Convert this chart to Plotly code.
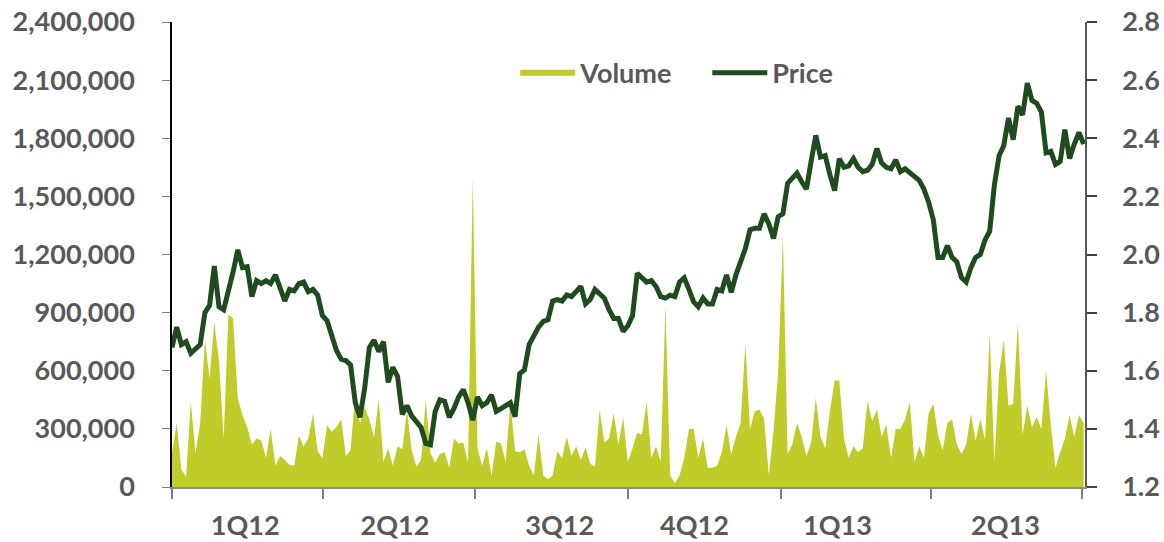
import pandas as pd
import plotly.graph_objects as go

# ---------------- data ----------------
quarter_labels = ["1Q12", "2Q12", "3Q12", "4Q12", "1Q13", "2Q13"]
label_dates = ["2012-02-14", "2012-05-14", "2012-08-21", "2012-11-10", "2013-02-04", "2013-05-16"]
quarter_bounds = ["2012-01-01", "2012-04-01", "2012-07-01", "2012-10-01",
                  "2013-01-01", "2013-04-01", "2013-07-01"]

price = [
    1.68, 1.75, 1.69, 1.70, 1.66, 1.675, 1.69, 1.80, 1.825, 1.96,
    1.82, 1.81, 1.87, 1.94, 2.016, 1.955, 1.958, 1.855, 1.91, 1.90,
    1.91, 1.90, 1.93, 1.878, 1.84, 1.88, 1.875, 1.90, 1.905, 1.872,
    1.88, 1.86, 1.79, 1.772, 1.717, 1.67, 1.64, 1.635, 1.62, 1.49,
    1.44, 1.54, 1.68, 1.705, 1.666, 1.70, 1.56, 1.612, 1.58, 1.45,
    1.48, 1.445, 1.425, 1.405, 1.35, 1.345, 1.46, 1.50, 1.495, 1.44,
    1.47, 1.51, 1.535, 1.49, 1.43, 1.51, 1.48, 1.49, 1.517, 1.46,
    1.47, 1.48, 1.49, 1.442, 1.59, 1.603, 1.69, 1.72, 1.75, 1.77,
    1.775, 1.84, 1.845, 1.84, 1.861, 1.855, 1.875, 1.89, 1.83, 1.845,
    1.88, 1.865, 1.85, 1.81, 1.78, 1.78, 1.735, 1.755, 1.79, 1.935,
    1.92, 1.905, 1.91, 1.89, 1.855, 1.85, 1.86, 1.855, 1.905, 1.92,
    1.88, 1.837, 1.82, 1.85, 1.83, 1.83, 1.88, 1.875, 1.93, 1.87,
    1.93, 1.98, 2.02, 2.085, 2.09, 2.09, 2.14, 2.105, 2.055, 2.13,
    2.14, 2.245, 2.265, 2.28, 2.25, 2.225, 2.32, 2.41, 2.335, 2.34,
    2.275, 2.22, 2.33, 2.30, 2.305, 2.33, 2.30, 2.285, 2.29, 2.31,
    2.365, 2.315, 2.30, 2.295, 2.325, 2.285, 2.295, 2.28, 2.27, 2.255,
    2.225, 2.18, 2.12, 1.99, 1.99, 2.03, 1.99, 1.975, 1.92, 1.905,
    1.955, 1.99, 2.0, 2.05, 2.08, 2.24, 2.34, 2.375, 2.47, 2.395,
    2.51, 2.48, 2.59, 2.53, 2.52, 2.49, 2.35, 2.355, 2.31, 2.32,
    2.43, 2.33, 2.38, 2.42, 2.38,
]

volume = [
    175000, 330000, 90000, 53000, 440000, 175000, 330000, 760000, 560000, 850000,
    650000, 250000, 890000, 870000, 460000, 370000, 310000, 220000, 250000, 240000,
    150000, 300000, 110000, 160000, 140000, 115000, 110000, 265000, 210000, 250000,
    380000, 185000, 150000, 320000, 285000, 310000, 350000, 160000, 190000, 480000,
    330000, 410000, 350000, 255000, 450000, 130000, 200000, 110000, 210000, 195000,
    395000, 190000, 105000, 140000, 450000, 175000, 125000, 170000, 180000, 100000,
    250000, 225000, 230000, 125000, 1600000, 200000, 110000, 200000, 60000, 235000,
    225000, 130000, 440000, 185000, 180000, 195000, 110000, 61000, 270000, 60000,
    40000, 60000, 185000, 150000, 260000, 160000, 210000, 140000, 205000, 120000,
    105000, 400000, 230000, 250000, 380000, 220000, 360000, 130000, 200000, 280000,
    270000, 440000, 150000, 210000, 130000, 940000, 60000, 20000, 60000, 150000,
    300000, 300000, 150000, 250000, 100000, 100000, 110000, 180000, 320000, 170000,
    260000, 330000, 740000, 300000, 390000, 400000, 350000, 60000, 290000, 600000,
    1300000, 170000, 220000, 330000, 260000, 160000, 230000, 460000, 260000, 200000,
    390000, 550000, 550000, 250000, 150000, 210000, 180000, 200000, 445000, 340000,
    400000, 260000, 320000, 150000, 300000, 300000, 350000, 440000, 130000, 210000,
    150000, 380000, 430000, 270000, 190000, 330000, 350000, 220000, 170000, 220000,
    380000, 240000, 350000, 243000, 790000, 130000, 590000, 760000, 420000, 430000,
    850000, 270000, 420000, 310000, 360000, 300000, 600000, 320000, 100000, 180000,
    250000, 370000, 260000, 370000, 330000,
]

dates = pd.date_range("2012-01-01", "2013-07-02", periods=len(price))

# ---------------- styles ----------------
VOL_COLOR = "#C0CC2A"
PRICE_COLOR = "#1F4B1F"
TEXT_COLOR = "#595959"
FONT = dict(family="Lato, 'Open Sans', sans-serif", size=27, color=TEXT_COLOR, weight="bold")

fig = go.Figure()
fig.add_trace(go.Scatter(
    x=dates, y=volume, name="Volume", mode="none",
    fill="tozeroy", fillcolor=VOL_COLOR, yaxis="y",
))
fig.add_trace(go.Scatter(
    x=dates, y=price, name="Price", mode="lines",
    line=dict(color=PRICE_COLOR, width=5), yaxis="y2",
))

fig.update_layout(
    width=1164, height=542,
    margin=dict(l=172, r=79, t=22, b=55, autoexpand=False),
    paper_bgcolor="white", plot_bgcolor="white",
    font=FONT,
    showlegend=True,
    legend=dict(
        orientation="h", x=0.376, y=0.89, xanchor="left", yanchor="middle",
        font=FONT, bgcolor="rgba(0,0,0,0)", itemwidth=55,
        entrywidth=122, entrywidthmode="pixels",
    ),
    xaxis=dict(
        type="date", automargin=False,
        range=["2012-01-01", "2013-07-02 19:00"],
        tickmode="array", tickvals=label_dates, ticktext=quarter_labels,
        ticks="outside", ticklen=14, tickcolor="rgba(0,0,0,0)",
        showgrid=False, zeroline=False,
        showline=True, linecolor="#8C8C8C", linewidth=1.5,
        minor=dict(tickmode="array", tickvals=quarter_bounds, ticks="outside",
                   ticklen=10, tickwidth=1.5, tickcolor="#7F7F7F", showgrid=False),
        tickfont=FONT,
    ),
    yaxis=dict(
        automargin=False,
        range=[0, 2400000], tickmode="linear", tick0=0, dtick=300000,
        tickformat=",d", ticks="outside", ticklen=8, tickcolor="#7F7F7F",
        showgrid=False, zeroline=False,
        showline=True, linecolor="#000000", linewidth=1.5,
        ticklabelstandoff=22, tickfont=FONT,
    ),
    yaxis2=dict(
        automargin=False,
        range=[1.2, 2.8], tickmode="linear", tick0=1.2, dtick=0.2,
        tickformat=".1f", overlaying="y", side="right",
        ticks="outside", ticklen=10, tickcolor="#404040", tickwidth=1.5,
        showgrid=False, zeroline=False,
        showline=True, linecolor="#595959", linewidth=1.5,
        ticklabelstandoff=20, tickfont=FONT,
    ),
    yaxis3=dict(
        automargin=False,
        range=[1.2, 2.8], tickmode="linear", tick0=1.2, dtick=0.2,
        overlaying="y", side="right", showticklabels=False,
        ticks="inside", ticklen=9, tickcolor="#404040", tickwidth=1.5,
        showgrid=False, zeroline=False, showline=False,
    ),
)

fig.write_html(
    "out.html",
    config={"displayModeBar": False},
    post_script="document.body.style.margin='0';document.body.style.overflow='hidden';",
)
